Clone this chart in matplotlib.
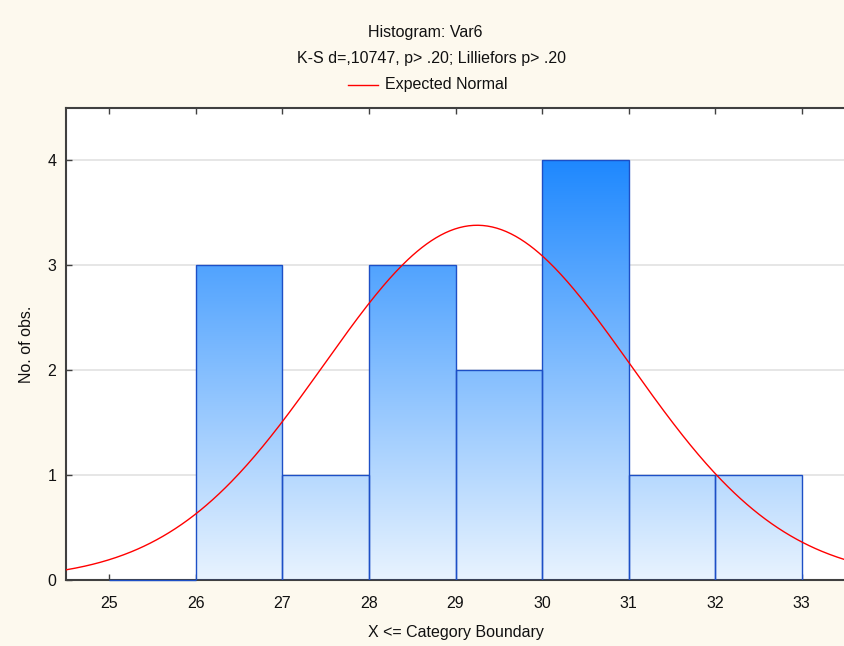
import numpy as np
import matplotlib
matplotlib.use("Agg")
import matplotlib.pyplot as plt
from matplotlib.colors import LinearSegmentedColormap
from matplotlib.lines import Line2D

# ---- data ----
bin_edges = [25, 26, 27, 28, 29, 30, 31, 32, 33]
counts = [0, 3, 1, 3, 2, 4, 1, 1]
x_ticks = [25, 26, 27, 28, 29, 30, 31, 32, 33]
y_ticks = [0, 1, 2, 3, 4]
normal_mean = 29.25
normal_sd = 1.77
n_obs = sum(counts)

title1 = "Histogram: Var6"
title2 = "K-S d=,10747, p> .20; Lilliefors p> .20"
legend_label = "Expected Normal"
xlabel = "X <= Category Boundary"
ylabel = "No. of obs."

plt.rcParams['font.family'] = ['Liberation Sans', 'DejaVu Sans']

W, H = 845, 646
fig = plt.figure(figsize=(W / 100, H / 100), dpi=100)
fig.patch.set_facecolor('#fdf9ee')

ax = fig.add_axes([66 / W, (H - 579.5) / H, (W - 66) / W, (579.5 - 108) / H])
ax.set_facecolor('white')

xmin, xmax = 24.5, 33.5
ymin, ymax = 0, 4.5

# grid
for yv in y_ticks[1:]:
    ax.axhline(yv, color='#e2e2e2', lw=1.2, zorder=1)

cmap = LinearSegmentedColormap.from_list('g', ['#e8f3fe', '#1e88ff'])
lefts = bin_edges[:-1]
bars = ax.bar(lefts, counts, width=1, align='edge', facecolor='none',
              edgecolor='#1d4fc6', linewidth=1.0, zorder=3)
grad = np.linspace(0, 1, 256).reshape(-1, 1)
for b in bars:
    if b.get_height() <= 0:
        b.set_clip_on(False)
        b.set_zorder(5)
        continue
    x0 = b.get_x()
    im = ax.imshow(grad, extent=[x0, x0 + b.get_width(), 0, 4], cmap=cmap,
                   vmin=0, vmax=1, aspect='auto', origin='lower', zorder=2,
                   interpolation='bilinear')
    im.set_clip_path(b)

xs = np.linspace(xmin, xmax, 500)
ys = n_obs * 1.0 / (normal_sd * np.sqrt(2 * np.pi)) * np.exp(-0.5 * ((xs - normal_mean) / normal_sd) ** 2)
ax.plot(xs, ys, color='#ff0000', lw=1.0, zorder=4)

ax.set_xlim(xmin, xmax)
ax.set_ylim(ymin, ymax)
ax.set_xticks(x_ticks)
ax.set_yticks(y_ticks)
ax.tick_params(axis='both', direction='in', length=4, width=1, color='#404040',
               labelsize=11.5, labelcolor='#111111')
ax.tick_params(axis='x', top=True, pad=12)
ax.tick_params(axis='y', pad=7)
for s in ['left', 'top', 'bottom']:
    ax.spines[s].set_color('#404040')
    ax.spines[s].set_linewidth(1.5)
ax.spines['right'].set_visible(False)

fig.text(66 / W + (W - 66) / W / 2, 1 - 632 / H, xlabel, ha='center', va='center', fontsize=11.5, color='#111111')
fig.text(27 / W, 1 - 344 / H, ylabel, ha='center', va='center', rotation=90, fontsize=11.5, color='#111111')

fig.text(425 / W, 1 - 33 / H, title1, ha='center', va='center', fontsize=11.5, color='#111111')
fig.text(432 / W, 1 - 59 / H, title2, ha='center', va='center', fontsize=11.5, color='#111111')
fig.add_artist(Line2D([348 / W, 378 / W], [1 - 85 / H, 1 - 85 / H], color='#ff0000', lw=1.0))
fig.text(385 / W, 1 - 85 / H, legend_label, ha='left', va='center', fontsize=11.5, color='#111111')

fig.savefig('out.png', dpi=100, facecolor=fig.get_facecolor())
